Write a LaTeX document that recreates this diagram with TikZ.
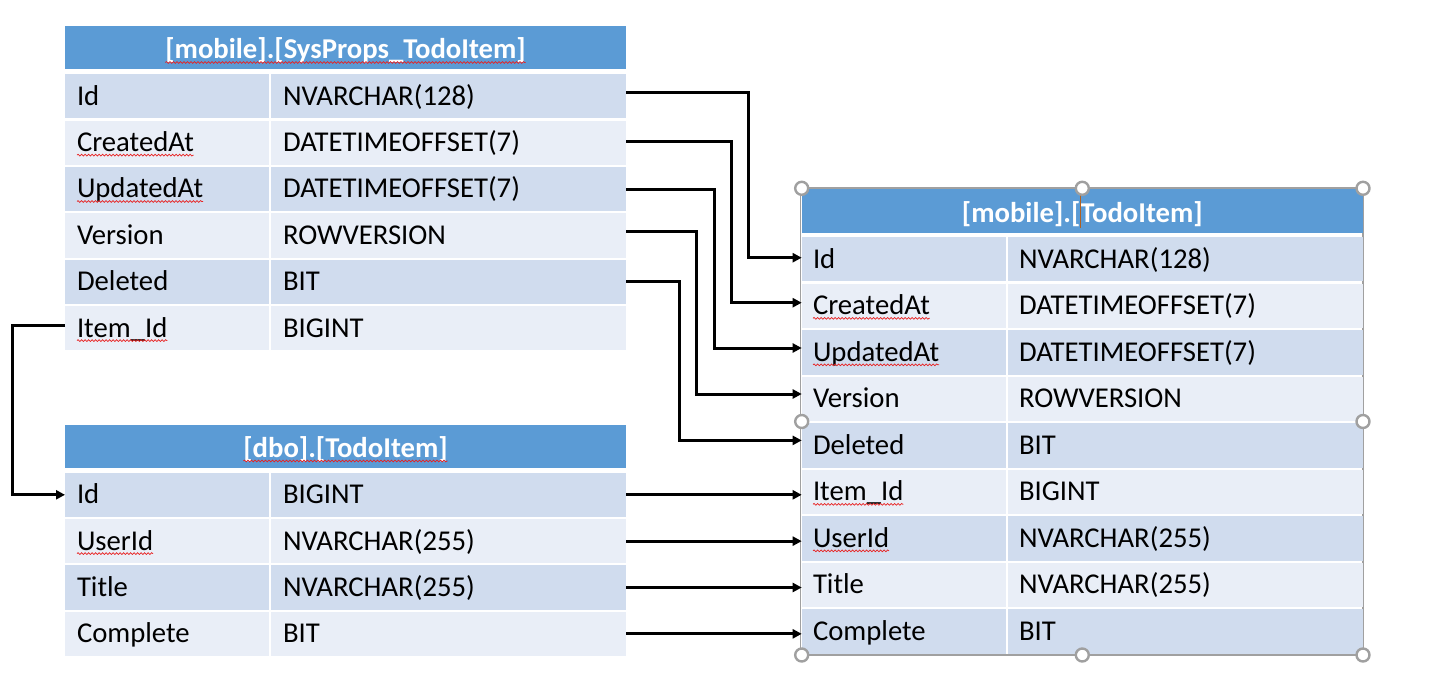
\documentclass[tikz,border=0pt]{standalone}
\usepackage{fontspec}
\setmainfont{Carlito}
\usetikzlibrary{arrows.meta,decorations.pathmorphing}
\definecolor{hdr}{HTML}{5B9BD5}
\definecolor{rowA}{HTML}{D0DCEE}
\definecolor{rowB}{HTML}{E9EEF7}
\definecolor{hgray}{HTML}{A0A0A0}
\definecolor{curs}{HTML}{B06020}
\definecolor{spell}{HTML}{E82020}
\newlength\mywa \newlength\mywb \newlength\mywc \newlength\mywd
\newcommand\hf{\bfseries\fontsize{28.7}{31}\selectfont}
\begin{document}
\begin{tikzpicture}[x=1pt,y=-1pt,
  cell/.style={inner sep=0pt, outer sep=0pt, anchor=north west, minimum height=44.2pt},
  lcell/.style={cell, minimum width=204pt},
  rcell/.style={cell, minimum width=355pt},
  hcell/.style={inner sep=0pt, outer sep=0pt, anchor=north west, minimum height=43.3pt, minimum width=561pt, fill=hdr},
  txt/.style={inner sep=0pt, outer sep=0pt, anchor=base west, font=\fontsize{28.7}{31}\selectfont, text=black},
  htxt/.style={inner sep=0pt, outer sep=0pt, anchor=base, font=\hf, text=white},
  conn/.style={line width=3pt, -{Triangle[length=9pt,width=9pt]}},
  squig/.style={spell, line width=0.7pt, decorate, decoration={snake, segment length=3.5pt, amplitude=0.9pt}},
  handle/.style={circle, draw=hgray, fill=white, line width=2.4pt, minimum size=13pt, inner sep=0pt}]
\useasboundingbox (0,0) rectangle (1442,692);
\fill[white] (0,0) rectangle (1442,692);

% ---------- Table A: [mobile].[SysProps_TodoItem]
\node[hcell] (AH) at (65,26) {};
\node[htxt] (AHt) at (345.5,59) {[mobile].[SysProps\_TodoItem]};
\foreach \nm/\ty [count=\i] in {Id/NVARCHAR(128),CreatedAt/DATETIMEOFFSET(7),UpdatedAt/DATETIMEOFFSET(7),Version/ROWVERSION,Deleted/BIT,Item\_Id/BIGINT}{
  \pgfmathsetmacro\yy{74.3+(\i-1)*46.35}
  \pgfmathsetmacro\yb{\yy+31}
  \ifodd\i \def\fc{rowA}\else\def\fc{rowB}\fi
  \node[lcell, fill=\fc] (An\i) at (65,\yy) {};
  \node[rcell, fill=\fc] (At\i) at (271,\yy) {};
  \node[txt] (Ax\i) at (77,\yb) {\nm};
  \node[txt] (Ay\i) at (283,\yb) {\ty};
}

% ---------- Table B: [dbo].[TodoItem]
\node[hcell] (BH) at (65,424.5) {};
\node[htxt] (BHt) at (345.5,457.5) {[dbo].[TodoItem]};
\foreach \nm/\ty [count=\i] in {Id/BIGINT,UserId/NVARCHAR(255),Title/NVARCHAR(255),Complete/BIT}{
  \pgfmathsetmacro\yy{472.7+(\i-1)*46.35}
  \pgfmathsetmacro\yb{\yy+31}
  \ifodd\i \def\fc{rowA}\else\def\fc{rowB}\fi
  \node[lcell, fill=\fc] (Bn\i) at (65,\yy) {};
  \node[rcell, fill=\fc] (Bt\i) at (271,\yy) {};
  \node[txt] (Bx\i) at (77,\yb) {\nm};
  \node[txt] (By\i) at (283,\yb) {\ty};
}

% ---------- Table C: [mobile].[TodoItem] (selected)
\draw[hgray, line width=1.2pt] (800.7,188) rectangle (1363,655);
\node[hcell] (CH) at (801.7,189.3) {};
\node[htxt] (CHt) at (1082.3,222.5) {[mobile].[TodoItem]};
\foreach \nm/\ty [count=\i] in {Id/NVARCHAR(128),CreatedAt/DATETIMEOFFSET(7),UpdatedAt/DATETIMEOFFSET(7),Version/ROWVERSION,Deleted/BIT,Item\_Id/BIGINT,UserId/NVARCHAR(255),Title/NVARCHAR(255),Complete/BIT}{
  \pgfmathsetmacro\yy{237.3+(\i-1)*46.5}
  \pgfmathsetmacro\yb{\yy+31}
  \ifodd\i \def\fc{rowA}\else\def\fc{rowB}\fi
  \node[lcell, fill=\fc] (Cn\i) at (801.7,\yy) {};
  \node[rcell, minimum width=355.3pt, fill=\fc] (Ct\i) at (1007.7,\yy) {};
  \node[txt] (Cx\i) at (813,\yb) {\nm};
  \node[txt] (Cy\i) at (1019,\yb) {\ty};
}

% ---------- spell-check underlines
\foreach \n in {Ax2,Ax3,Ax6,Bx2,Cx2,Cx3,Cx6,Cx7}
  \draw[squig] ([yshift=-3.5pt]\n.base west) -- ([yshift=-3.5pt]\n.base east);
\settowidth\mywa{\hf [mobile].[}
\settowidth\mywb{\hf ]}
\draw[squig] ([xshift=\mywa,yshift=-3.5pt]AHt.base west) -- ([xshift=-\mywb,yshift=-3.5pt]AHt.base east);
\settowidth\mywc{\hf [}
\settowidth\mywd{\hf [dbo}
\draw[squig] ([xshift=\mywc,yshift=-3.5pt]BHt.base west) -- ([xshift=\mywd,yshift=-3.5pt]BHt.base west);
\settowidth\mywa{\hf [dbo].[}
\draw[squig] ([xshift=\mywa,yshift=-3.5pt]BHt.base west) -- ([xshift=-\mywb,yshift=-3.5pt]BHt.base east);

% ---------- connectors
\draw[conn] ([yshift=3.5pt]At1.east) -- ++(122.5,0) |- ([yshift=1.7pt]Cn1.west);
\draw[conn] ([yshift=1.7pt]At2.east) -- ++(105.7,0) |- ([yshift=3.2pt]Cn2.west);
\draw[conn] (At3.east) -- ++(88,0) |- ([yshift=4.4pt]Cn3.west);
\draw[conn] ([yshift=3.8pt]At4.east) -- ++(70.7,0) |- ([yshift=4.9pt]Cn4.west);
\draw[conn] (At5.east) -- ++(53,0) |- ([yshift=5pt]Cn5.west);
\draw[conn] ([yshift=2.4pt]An6.west) -- ++(-52.7,0) |- (Bn1.west);
\foreach \k/\c in {1/6,2/7,3/8,4/9}
  \draw[conn] (Bt\k.east) -- (Bt\k.east -| Cn\c.west);

% ---------- selection handles and text cursor
\draw[curs, line width=0.9pt] (1080.3,193) -- (1080.3,228);
\foreach \p [count=\j] in {(801.7,188.3),(1082.3,188.3),(1363,188.3),(801.7,421.5),(1363,421.5),(801.7,655),(1082.3,655),(1363,655)}
  \node[handle] (hd\j) at \p {};
\end{tikzpicture}
\end{document}
